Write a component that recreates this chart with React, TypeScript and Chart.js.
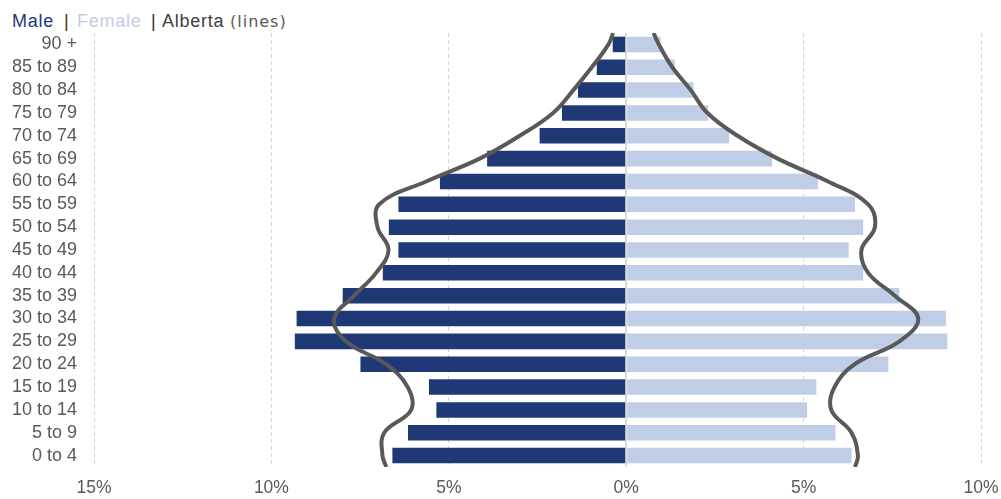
import React, { useEffect, useRef } from "react";
import { Chart, registerables } from "chart.js";

Chart.register(...registerables);

const ageGroups = [
  "90 +", "85 to 89", "80 to 84", "75 to 79", "70 to 74", "65 to 69", "60 to 64",
  "55 to 59", "50 to 54", "45 to 49", "40 to 44", "35 to 39", "30 to 34",
  "25 to 29", "20 to 24", "15 to 19", "10 to 14", "5 to 9", "0 to 4",
];

// Percent of population (top row first)
const malePct = [0.38, 0.83, 1.36, 1.81, 2.44, 3.92, 5.25, 6.42, 6.69, 6.42, 6.86, 7.99, 9.29, 9.34, 7.49, 5.56, 5.35, 6.15, 6.59];
const femalePct = [0.97, 1.37, 1.9, 2.31, 2.9, 4.11, 5.41, 6.45, 6.68, 6.27, 6.68, 7.7, 9.01, 9.05, 7.39, 5.36, 5.1, 5.9, 6.35];

// Alberta comparison lines (top row first)
const albertaMale = [0.5, 0.97, 1.49, 2.06, 3.0, 4.13, 5.64, 6.96, 7.01, 6.7, 7.05, 7.67, 8.23, 7.9, 6.77, 6.16, 6.06, 6.82, 6.87];
const albertaFemale = [0.92, 1.3, 1.82, 2.29, 3.14, 4.27, 5.69, 6.82, 7.01, 6.63, 6.82, 7.57, 8.23, 7.7, 6.44, 5.87, 5.78, 6.35, 6.53];
// where the lines meet the top and bottom edges of the plot
const albertaMaleEdges = [0.37, 6.76];
const albertaFemaleEdges = [0.77, 6.45];

const xTicks = [-15, -10, -5, 0, 5, 10];

const MALE = "#1f3876";
const FEMALE = "#bfcde6";
const LINE = "#595959";
const FONT = "'Liberation Sans', Arial, sans-serif";

function linePoints(vals: number[], edges: number[], sign: number) {
  const pts = [{ x: sign * edges[0], y: -0.5 }];
  vals.forEach((v, i) => pts.push({ x: sign * v, y: i }));
  pts.push({ x: sign * edges[1], y: vals.length - 0.5 });
  return pts;
}

const legendBase: React.CSSProperties = {
  position: "absolute",
  top: 10,
  fontFamily: FONT,
  fontSize: 18,
  lineHeight: "22px",
  whiteSpace: "nowrap",
  letterSpacing: "0.75px",
};

export default function App() {
  const ref = useRef<HTMLCanvasElement>(null);
  useEffect(() => {
    if (!ref.current) return;
    const chart = new Chart(ref.current, {
      data: {
        labels: ageGroups,
        datasets: [
          {
            type: "line",
            label: "Alberta male",
            data: linePoints(albertaMale, albertaMaleEdges, -1),
            yAxisID: "yl",
            borderColor: LINE,
            borderWidth: 4,
            pointRadius: 0,
            tension: 0.4,
            fill: false,
            order: 0,
          } as any,
          {
            type: "line",
            label: "Alberta female",
            data: linePoints(albertaFemale, albertaFemaleEdges, 1),
            yAxisID: "yl",
            borderColor: LINE,
            borderWidth: 4,
            pointRadius: 0,
            tension: 0.4,
            fill: false,
            order: 0,
          } as any,
          {
            type: "bar",
            label: "Male",
            data: malePct.map((v) => -v),
            backgroundColor: MALE,
            grouped: false,
            barPercentage: 0.68,
            categoryPercentage: 1,
            yAxisID: "y",
            order: 1,
          } as any,
          {
            type: "bar",
            label: "Female",
            data: femalePct,
            backgroundColor: FEMALE,
            grouped: false,
            barPercentage: 0.68,
            categoryPercentage: 1,
            yAxisID: "y",
            order: 1,
          } as any,
        ],
      },
      options: {
        indexAxis: "y",
        responsive: false,
        animation: false,
        layout: { padding: { top: 33, right: 0, left: 0, bottom: 0 } },
        plugins: { legend: { display: false }, tooltip: { enabled: false } },
        scales: {
          x: {
            type: "linear",
            min: -15,
            max: 10,
            afterBuildTicks: (s: any) => {
              s.ticks = xTicks.map((v) => ({ value: v }));
            },
            ticks: {
              callback: (v: any) => Math.abs(Number(v)) + "%",
              font: { family: FONT, size: 17.5 },
              color: "#595959",
              padding: 11,
              maxRotation: 0,
              autoSkip: false,
            },
            grid: {
              color: (ctx: any) => (ctx.tick && ctx.tick.value === 0 ? "#d9d9d9" : "#d4d4d4"),
              lineWidth: (ctx: any) => (ctx.tick && ctx.tick.value === 0 ? 2 : 1),
              drawTicks: false,
            },
            border: {
              display: false,
              dash: (ctx: any) => (ctx.tick && ctx.tick.value === 0 ? [] : [4, 3]),
            } as any,
            afterFit: (s: any) => {
              s.height = 32;
              s.paddingRight = 20;
            },
          },
          y: {
            type: "category",
            grid: { display: false, drawTicks: false },
            border: { display: false },
            ticks: {
              font: { family: FONT, size: 18 },
              color: "#595959",
              padding: 17,
              autoSkip: false,
            },
            afterFit: (s: any) => {
              s.width = 94;
            },
          },
          yl: {
            type: "linear",
            display: false,
            min: -0.5,
            max: 18.5,
            reverse: true,
          },
        },
      } as any,
    });
    return () => chart.destroy();
  }, []);

  return (
    <div style={{ position: "absolute", left: 0, top: 0, width: 1001, height: 499, background: "#fff" }}>
      <span style={{ ...legendBase, left: 12, color: MALE }}>Male</span>
      <span style={{ ...legendBase, left: 64, color: "#3a2a1a" }}>|</span>
      <span style={{ ...legendBase, left: 77, color: FEMALE }}>Female</span>
      <span style={{ ...legendBase, left: 151, color: "#3a2a1a" }}>|</span>
      <span style={{ ...legendBase, left: 162, color: "#404040" }}>Alberta</span>
      <span
        style={{
          ...legendBase,
          left: 230,
          top: 11,
          color: "#595959",
          fontSize: 16,
          letterSpacing: "1px",
          fontFamily: "'DejaVu Sans', sans-serif",
        }}
      >
        (lines)
      </span>
      <canvas ref={ref} width={1001} height={499} style={{ position: "absolute", left: 0, top: 0 }} />
    </div>
  );
}
